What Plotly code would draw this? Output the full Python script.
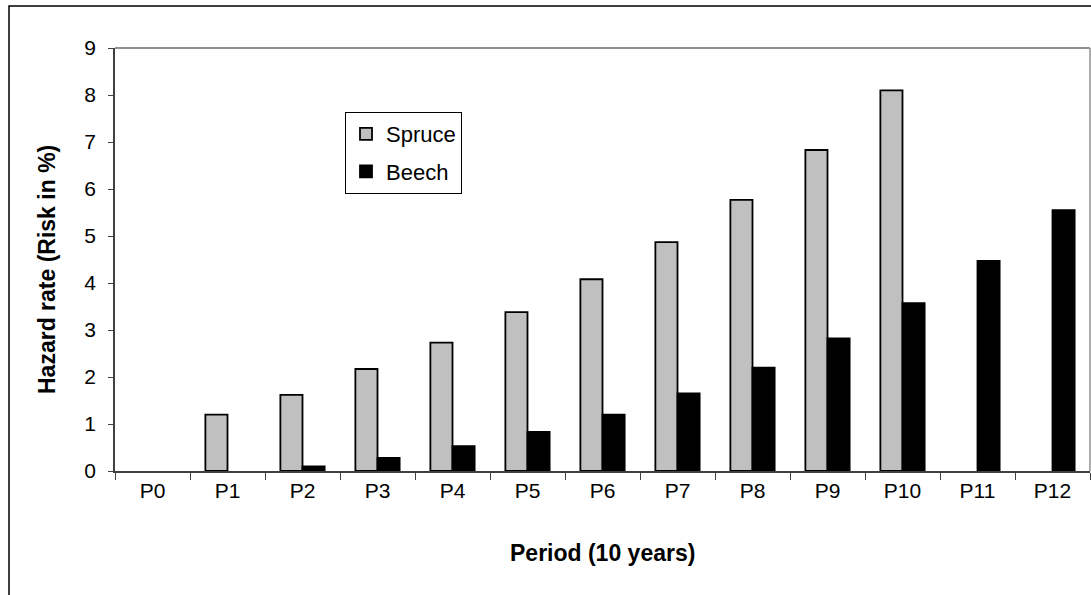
import plotly.graph_objects as go

periods = ["P0", "P1", "P2", "P3", "P4", "P5", "P6", "P7", "P8", "P9", "P10", "P11", "P12"]
spruce = [0, 1.2, 1.62, 2.17, 2.73, 3.38, 4.08, 4.87, 5.77, 6.83, 8.1, 0, 0]
beech = [0, 0, 0.1, 0.28, 0.53, 0.83, 1.2, 1.65, 2.2, 2.82, 3.57, 4.47, 5.55]
y_ticks = [0, 1, 2, 3, 4, 5, 6, 7, 8, 9]

W, H = 1091, 595
L, R, T, B = 115, 1, 48, 124
pw = W - L - R
ph = H - T - B

fig = go.Figure()
fig.add_trace(go.Bar(x=periods, y=[v if v > 0 else None for v in spruce], name="Spruce",
                     legendgroup="s",
                     marker=dict(color="#C0C0C0", line=dict(color="black", width=1.8))))
fig.add_trace(go.Bar(x=periods, y=[v if v > 0 else None for v in beech], name="Beech",
                     legendgroup="b",
                     marker=dict(color="black", line=dict(color="black", width=1.8))))

font = "Liberation Sans, Arial, sans-serif"
fig.update_layout(
    width=W, height=H,
    margin=dict(l=L, r=R, t=T, b=B, autoexpand=False),
    paper_bgcolor="white", plot_bgcolor="white",
    barmode="group", bargap=0.41, bargroupgap=0,
    font=dict(family=font, size=21, color="black"),
    showlegend=True,
    legend=dict(x=(345 - L) / pw, y=(H - B - 112) / ph, xanchor="left", yanchor="top",
                bordercolor="black", borderwidth=1, bgcolor="white",
                font=dict(size=22), tracegroupgap=6, itemwidth=30),
    xaxis=dict(type="category", tickson="boundaries", ticks="outside", ticklen=7, tickcolor="#404040",
               showline=True, linecolor="#404040", linewidth=1.5, showgrid=False,
               tickfont=dict(size=21)),
    yaxis=dict(range=[0, 9], tickvals=y_ticks, ticks="outside", ticklen=5, tickcolor="#404040",
               showline=True, linecolor="#404040", linewidth=1.5, showgrid=False, zeroline=False,
               tickfont=dict(size=21), ticklabelstandoff=8),
    annotations=[
        dict(text="<b>Period (10 years)</b>", xref="paper", yref="paper",
             x=(602 - L) / pw, y=(H - B - 553) / ph, xanchor="center", yanchor="middle",
             showarrow=False, font=dict(size=23)),
        dict(text="<b>Hazard rate (Risk in %)</b>", xref="paper", yref="paper",
             x=(47 - L) / pw, y=(H - B - 270) / ph, xanchor="center", yanchor="middle",
             textangle=-90, showarrow=False, font=dict(size=23)),
    ],
)

# plot area border (top and right in gray)
fig.add_shape(type="line", xref="paper", yref="paper", x0=0, x1=1, y0=1, y1=1,
              line=dict(color="#909090", width=2))
fig.add_shape(type="line", xref="paper", yref="paper", x0=1, x1=1, y0=0, y1=1,
              line=dict(color="#909090", width=1.5))
# outer chart border
fig.add_shape(type="rect", xref="paper", yref="paper",
              x0=(9 - L) / pw, x1=(1096 - L) / pw,
              y0=(H - B - 600) / ph, y1=(H - B - 6) / ph,
              line=dict(color="black", width=1.5), fillcolor="rgba(0,0,0,0)", layer="below")

fig.write_html("out.html", config={"displayModeBar": False},
               post_script="document.body.style.margin='0';")
